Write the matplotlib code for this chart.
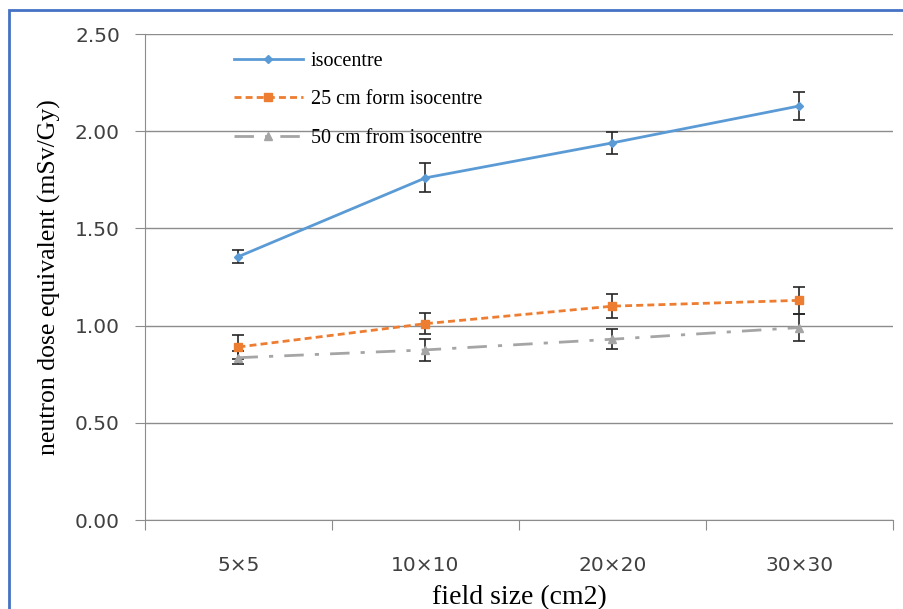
import numpy as np
import matplotlib.pyplot as plt
from matplotlib.patches import Rectangle
from matplotlib.lines import Line2D

# Data
field_sizes = ['5×5', '10×10', '20×20', '30×30']
iso_mean = [1.355, 1.76, 1.94, 2.13]
iso_err = [0.035, 0.075, 0.055, 0.07]
cm25_mean = [0.89, 1.01, 1.10, 1.13]
cm25_err = [0.06, 0.055, 0.06, 0.07]
cm50_mean = [0.835, 0.875, 0.93, 0.99]
cm50_err = [0.035, 0.055, 0.05, 0.07]

serif = 'Liberation Serif'
sans = 'DejaVu Sans'
grid_col = '#8c8c8c'
err_col = '#262626'

fig = plt.figure(figsize=(9.04, 6.09), dpi=100)
ax = fig.add_axes([145 / 904, 1 - 520 / 609, 748 / 904, 486 / 609])

x = np.arange(len(field_sizes))

# Plot the three series with error bars
ax.errorbar(x, iso_mean, yerr=iso_err, fmt='-D', color='#5B9BD5', markersize=4,
            linewidth=2, ecolor=err_col, elinewidth=1.2, capsize=4.5, capthick=1.2,
            zorder=3)
ax.errorbar(x, cm25_mean, yerr=cm25_err, fmt='--s', color='#ED7D31', markersize=6,
            linewidth=2, dashes=(2.5, 1.5), ecolor=err_col, elinewidth=1.2,
            capsize=4.5, capthick=1.2, zorder=3)
ax.errorbar(x, cm50_mean, yerr=cm50_err, fmt='-.^', color='#A5A5A5', markersize=6,
            linewidth=2, dashes=(7, 4, 1.5, 4), ecolor=err_col, elinewidth=1.2,
            capsize=4.5, capthick=1.2, zorder=3)

# Axes limits and ticks
ax.set_xlim(-0.5, len(field_sizes) - 0.5)
ax.set_ylim(0, 2.5)
yt = np.arange(0, 2.51, 0.5)
ax.set_yticks(yt)
ax.set_yticklabels(['%.2f' % v for v in yt], fontsize=14.5, color='#404040', family=sans)
ax.tick_params(axis='y', length=7, color=grid_col, pad=11)

ax.set_xticks(np.arange(-0.5, len(field_sizes)), labels=[''] * (len(field_sizes) + 1))
ax.set_xticks(x, labels=field_sizes, minor=True, fontsize=14.5, color='#404040', family=sans)
ax.tick_params(axis='x', which='major', length=7, color=grid_col)
ax.tick_params(axis='x', which='minor', length=0, pad=26)

ax.yaxis.grid(True, color=grid_col, linewidth=1)
ax.set_axisbelow(True)
for s in ['top', 'right']:
    ax.spines[s].set_visible(False)
for s in ['left', 'bottom']:
    ax.spines[s].set_color(grid_col)

# Axis labels
ax.set_ylabel('neutron dose equivalent (mSv/Gy)', fontsize=18.5, family=serif, labelpad=10)
ax.set_xlabel('field size (cm2)', fontsize=20, family=serif, labelpad=7)

# Legend (line + marker only, no error bars)
handles = [
    Line2D([], [], color='#5B9BD5', marker='D', markersize=4, linewidth=2),
    Line2D([], [], color='#ED7D31', marker='s', markersize=6, linewidth=2, dashes=(2.5, 1.5)),
    Line2D([], [], color='#A5A5A5', marker='^', markersize=6, linewidth=2, dashes=(7, 4, 1.5, 4)),
]
labels = ['isocentre', '25 cm form isocentre', '50 cm from isocentre']
ax.legend(handles, labels, loc='upper left', bbox_to_anchor=(0.095, 1.0), frameon=False,
          prop={'family': serif, 'size': 14.5}, handlelength=3.4,
          labelspacing=0.95, handletextpad=0.4)

# Blue border along top and left edges
fig.patches.append(Rectangle((9 / 904, -0.1), 1.2, 1 - 10 / 609 + 0.1,
                             transform=fig.transFigure, fill=False,
                             edgecolor='#4472C4', linewidth=2))

fig.savefig('out.png', dpi=100)
